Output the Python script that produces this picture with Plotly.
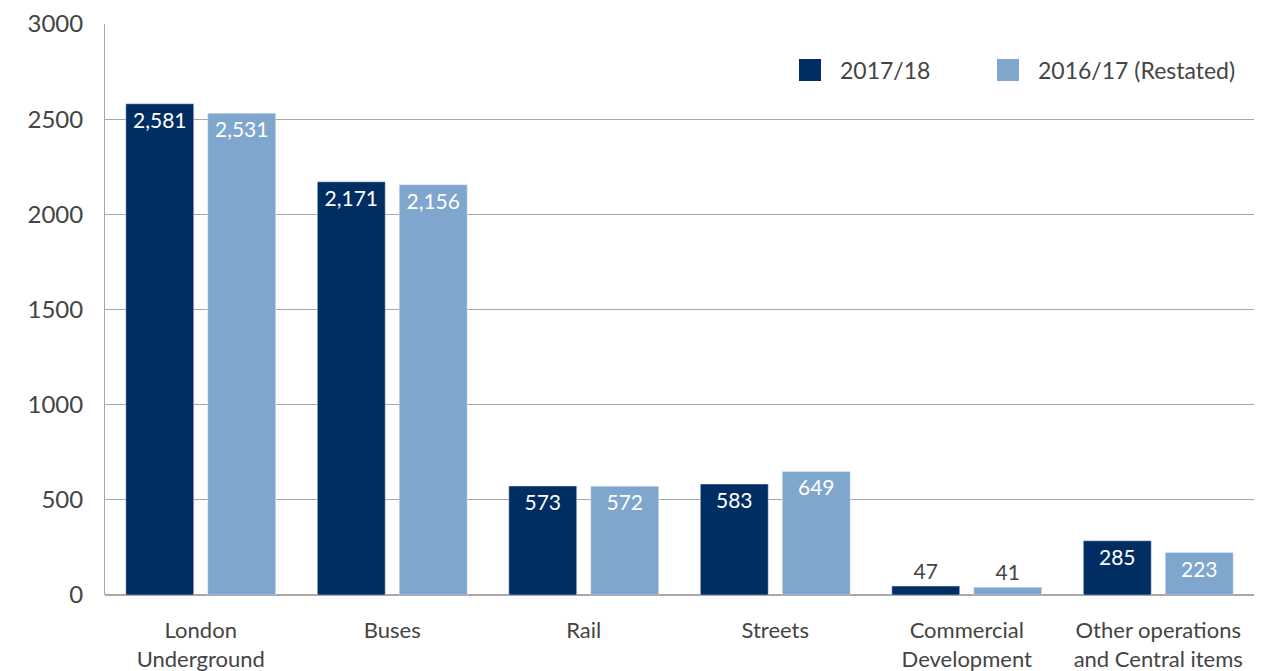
import plotly.graph_objects as go

categories = ["London<br>Underground", "Buses", "Rail", "Streets", "Commercial<br>Development", "Other operations<br>and Central items"]
values_2017 = [2581, 2171, 573, 583, 47, 285]
values_2016 = [2531, 2156, 572, 649, 41, 223]
labels_2017 = ["2,581", "2,171", "573", "583", "47", "285"]
labels_2016 = ["2,531", "2,156", "572", "649", "41", "223"]
series_names = ["2017/18", "2016/17 (Restated)"]
y_ticks = [0, 500, 1000, 1500, 2000, 2500, 3000]

dark = "#002d62"
light = "#7fa6cd"
FONT = "Lato"
TXT = "#444444"

def positions(vals):
    return ["inside" if v > 150 else "outside" for v in vals]

def colors(vals):
    return ["white" if v > 150 else TXT for v in vals]

fig = go.Figure()
for vals, labs, col, name in [(values_2017, labels_2017, dark, series_names[0]),
                              (values_2016, labels_2016, light, series_names[1])]:
    fig.add_trace(go.Bar(
        x=categories, y=vals, name=name, marker_color=col,
        text=labs, textposition=positions(vals),
        insidetextanchor="end", textangle=0,
        textfont=dict(family=FONT, size=21, color=colors(vals)),
        cliponaxis=False, showlegend=False,
    ))

# legend drawn as paper-space swatches and labels
PW, PH = 1149, 571
legend_x = [(799 - 105) / PW, (997 - 105) / PW]
for name, col, lx in zip(series_names, [dark, light], legend_x):
    fig.add_shape(type="rect", xref="paper", yref="paper",
                  x0=lx, x1=lx + 22 / PW, y0=(595 - 81) / PH, y1=(595 - 59) / PH,
                  fillcolor=col, line=dict(width=0))
    fig.add_annotation(xref="paper", yref="paper", x=lx + 39 / PW, y=(595 - 70) / PH,
                       text=name, showarrow=False, xanchor="left", yanchor="middle",
                       font=dict(family=FONT, size=23, color=TXT))

fig.update_layout(
    width=1276, height=663,
    margin=dict(l=97, r=30, t=16, b=76),
    paper_bgcolor="white", plot_bgcolor="white",
    barmode="group", bargap=0.144, bargroupgap=0.171,
    font=dict(family=FONT, color=TXT, size=20),
    showlegend=False,
)
fig.update_xaxes(
    showline=False, showgrid=False, ticks="", automargin=False,
    tickfont=dict(family=FONT, size=22, color=TXT),
    ticklabelstandoff=20,
)
fig.update_yaxes(
    range=[0, 3000], tickvals=y_ticks, showgrid=True, gridcolor="#a8a8a8", gridwidth=1,
    showline=True, linecolor="#a8a8a8", linewidth=1, zeroline=True, zerolinecolor="#a8a8a8", zerolinewidth=2,
    tickfont=dict(family=FONT, size=24, color=TXT), ticks="", ticklabelstandoff=16, automargin=False,
)

fig.write_html("out.html")
